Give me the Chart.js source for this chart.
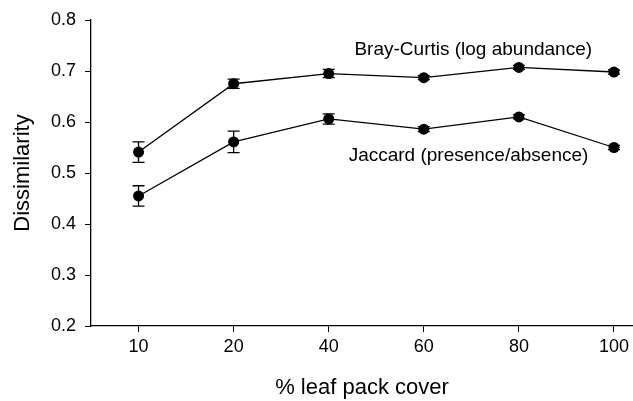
<!DOCTYPE html>
<html>
<head>
<meta charset="utf-8">
<script src="https://cdn.jsdelivr.net/npm/chart.js@4"></script>
<style>
html,body{margin:0;padding:0;background:#fff;}
#wrap{width:633px;height:401px;position:relative;}
</style>
</head>
<body>
<div id="wrap"><canvas id="c" width="633" height="401"></canvas></div>
<script>
// ---- data ----
const categories = ["10", "20", "40", "60", "80", "100"];
const brayCurtis = [0.541, 0.675, 0.695, 0.687, 0.707, 0.698];
const brayCurtisErr = [0.020, 0.009, 0.008, 0.004, 0.004, 0.004];
const jaccard = [0.455, 0.561, 0.606, 0.586, 0.610, 0.550];
const jaccardErr = [0.020, 0.021, 0.010, 0.005, 0.004, 0.004];
const yTicks = [0.2, 0.3, 0.4, 0.5, 0.6, 0.7, 0.8];
const seriesLabels = ["Bray-Curtis (log abundance)", "Jaccard (presence/absence)"];
// label anchors in data units (index, value)
const labelAnchors = [[3.52, 0.742], [3.47, 0.533]];

const FONT = "'Liberation Sans', Arial, Helvetica, sans-serif";

const errorBars = {
  id: 'errorBars',
  beforeDatasetsDraw(chart) {
    const ctx = chart.ctx, xs = chart.scales.x, ys = chart.scales.y;
    const errs = [brayCurtisErr, jaccardErr];
    ctx.save();
    ctx.strokeStyle = '#000';
    ctx.lineWidth = 1.3;
    chart.data.datasets.forEach((ds, di) => {
      ds.data.forEach((pt, i) => {
        const x = xs.getPixelForValue(pt.x);
        const yt = ys.getPixelForValue(pt.y + errs[di][i]);
        const yb = ys.getPixelForValue(pt.y - errs[di][i]);
        ctx.beginPath();
        ctx.moveTo(x, yt); ctx.lineTo(x, yb);
        ctx.moveTo(x - 6, yt); ctx.lineTo(x + 6, yt);
        ctx.moveTo(x - 6, yb); ctx.lineTo(x + 6, yb);
        ctx.stroke();
      });
    });
    ctx.restore();
  },
  afterDatasetsDraw(chart) {
    const ctx = chart.ctx, xs = chart.scales.x, ys = chart.scales.y;
    ctx.save();
    ctx.fillStyle = '#000';
    ctx.font = "19px " + FONT;
    ctx.textAlign = 'center';
    ctx.textBaseline = 'middle';
    seriesLabels.forEach((t, i) => {
      ctx.fillText(t, xs.getPixelForValue(labelAnchors[i][0]), ys.getPixelForValue(labelAnchors[i][1]));
    });
    ctx.restore();
  }
};

const toPts = arr => arr.map((v, i) => ({x: i, y: v}));

new Chart(document.getElementById('c'), {
  type: 'line',
  data: {
    datasets: [
      {label: seriesLabels[0], data: toPts(brayCurtis), borderColor: '#000', backgroundColor: '#000',
       borderWidth: 1.3, pointRadius: 5.5, pointBackgroundColor: '#000', pointBorderWidth: 0, tension: 0},
      {label: seriesLabels[1], data: toPts(jaccard), borderColor: '#000', backgroundColor: '#000',
       borderWidth: 1.3, pointRadius: 5.5, pointBackgroundColor: '#000', pointBorderWidth: 0, tension: 0}
    ]
  },
  options: {
    responsive: false,
    animation: false,
    events: [],
    layout: {autoPadding: false, padding: {top: 20, right: 0, left: 0, bottom: 0}},
    plugins: {legend: {display: false}, tooltip: {enabled: false}},
    scales: {
      x: {
        type: 'linear',
        min: -0.5, max: 5.2,
        afterBuildTicks: s => { s.ticks = categories.map((_, i) => ({value: i})); },
        afterFit: s => { s.height = 75; s.paddingLeft = 0; s.paddingRight = 0; },
        grid: {display: true, drawOnChartArea: false, drawTicks: true, tickLength: 6, color: '#000', lineWidth: 1},
        border: {display: true, color: '#000', width: 1.3},
        ticks: {color: '#000', font: {family: FONT, size: 18}, padding: 4, maxRotation: 0,
                callback: (v) => categories[v]},
        title: {display: true, text: '% leaf pack cover', color: '#000', font: {family: FONT, size: 22}, padding: {top: 0, bottom: 0}}
      },
      y: {
        min: 0.2, max: 0.8,
        afterBuildTicks: s => { s.ticks = yTicks.map(v => ({value: v})); },
        afterFit: s => { s.width = 91; s.paddingTop = 0; s.paddingBottom = 0; },
        grid: {display: true, drawOnChartArea: false, drawTicks: true, tickLength: 6, color: '#000', lineWidth: 1},
        border: {display: true, color: '#000', width: 1.3},
        ticks: {color: '#000', font: {family: FONT, size: 18}, padding: 9, callback: v => v.toFixed(1)},
        title: {display: true, text: 'Dissimilarity', color: '#000', font: {family: FONT, size: 22}, padding: {top: 10, bottom: 0}}
      }
    }
  },
  plugins: [errorBars]
});
</script>
</body>
</html>
